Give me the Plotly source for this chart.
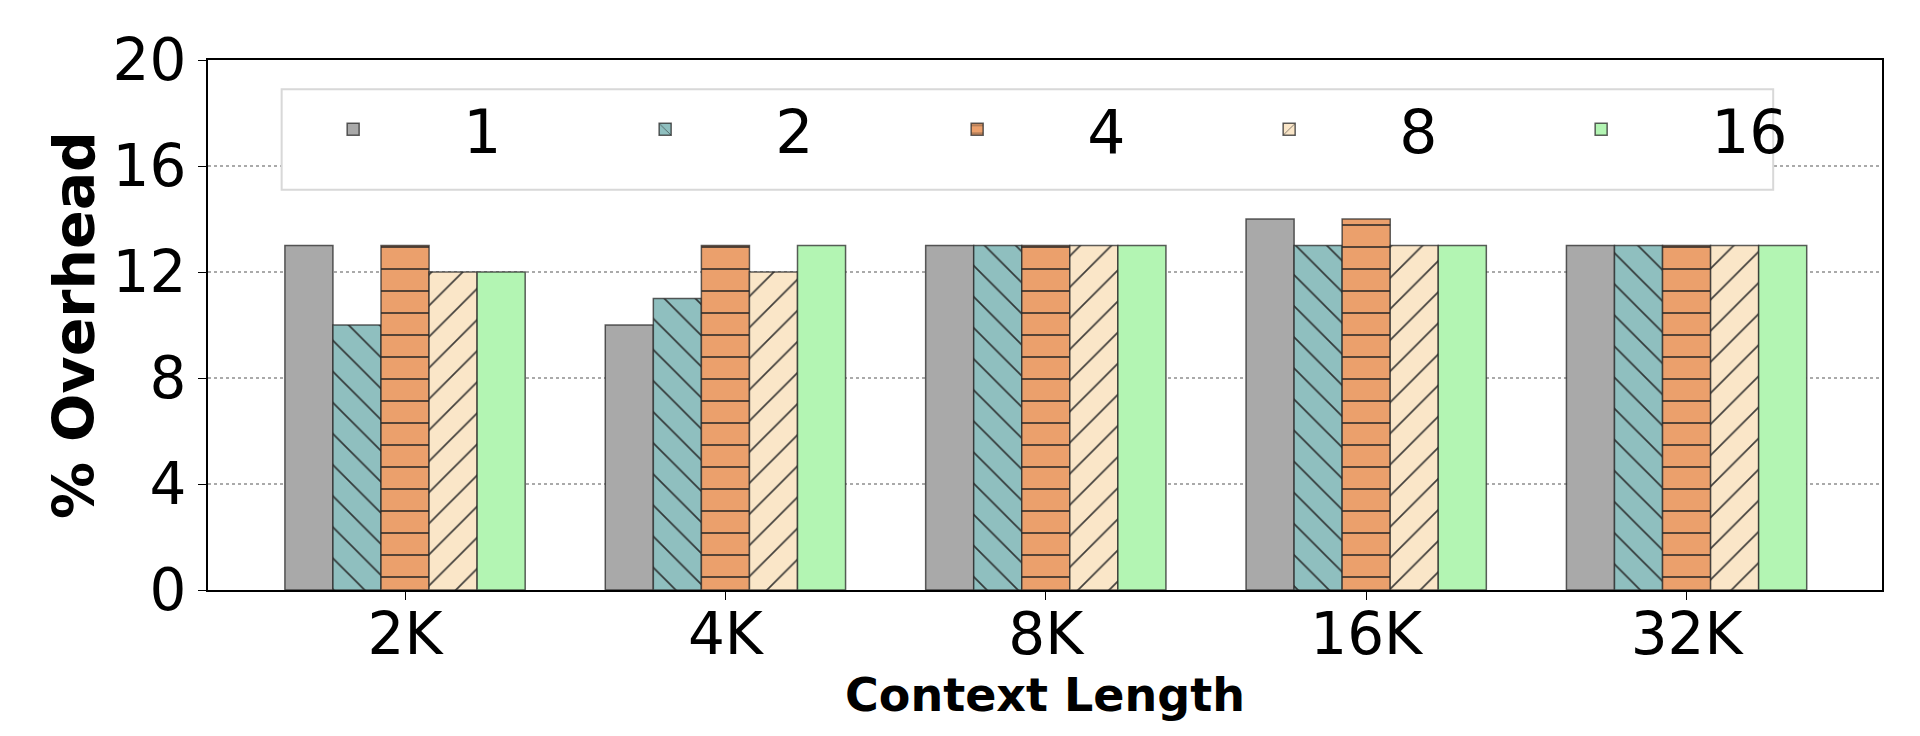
import plotly.graph_objects as go

# context lengths on the x axis
contexts = ["2K", "4K", "8K", "16K", "32K"]

# % overhead per series
s1 = [13, 10, 13, 14, 13]
s2 = [10, 11, 13, 13, 13]
s4 = [13, 13, 13, 14, 13]
s8 = [12, 12, 13, 13, 13]
s16 = [12, 13, 13, 13, 13]

series_names = ["1", "2", "4", "8", "16"]
y_ticks = [0, 4, 8, 12, 16, 20]

colors = ["#a9a9a9", "#8fbfbf", "#eba06c", "#fae6c8", "#b3f5b3"]
patterns = ["", "\\", "-", "/", ""]

fig = go.Figure()

for name, vals, col, pat in zip(series_names, [s1, s2, s4, s8, s16], colors, patterns):
    fig.add_trace(go.Bar(
        x=contexts, y=vals, name=name,
        marker=dict(
            color=col,
            line=dict(color="rgba(40,40,40,0.75)", width=1.5),
            pattern=dict(shape=pat, fgcolor="#222222", fgopacity=0.85,
                         size=22, solidity=0.08),
        ),
    ))

# legend frame drawn as a shape so it can be narrower than the entries
fig.add_shape(
    type="rect", xref="paper", yref="paper",
    x0=0.044, x1=0.935, y0=0.755, y1=0.945,
    fillcolor="white", line=dict(color="#d8d8d8", width=2), layer="above",
)

fig.update_layout(
    width=1920, height=736,
    template="plotly_white",
    barmode="group", bargap=0.25, bargroupgap=0,
    plot_bgcolor="white", paper_bgcolor="white",
    margin=dict(l=200, r=46, t=52, b=154),
    font=dict(family="DejaVu Sans", size=56, color="black"),
    legend=dict(
        orientation="h", x=0.021, y=0.955, xanchor="left", yanchor="top",
        bgcolor="rgba(0,0,0,0)", borderwidth=0,
        font=dict(size=60), itemwidth=210,
        entrywidth=87, entrywidthmode="pixels",
        traceorder="normal",
    ),
)

fig.update_xaxes(
    range=[-0.615, 4.61],
    title=dict(text="<b>Context Length</b>", font=dict(family="DejaVu Sans", size=46), standoff=6),
    showline=True, linecolor="black", linewidth=2, mirror=True,
    ticks="outside", ticklen=8, tickcolor="black",
    ticklabelstandoff=-16,
    showgrid=False, tickfont=dict(size=58),
)
fig.update_yaxes(
    range=[0, 20], tickvals=y_ticks,
    title=dict(text="<b>% Overhead</b>", font=dict(family="DejaVu Sans", size=57), standoff=0),
    showline=True, linecolor="black", linewidth=2, mirror=True,
    ticks="outside", ticklen=8, tickcolor="black",
    showgrid=True, gridcolor="#aaaaaa", griddash="dot", gridwidth=1.5,
    zeroline=False, tickfont=dict(size=58),
)

fig.write_html("out.html")
